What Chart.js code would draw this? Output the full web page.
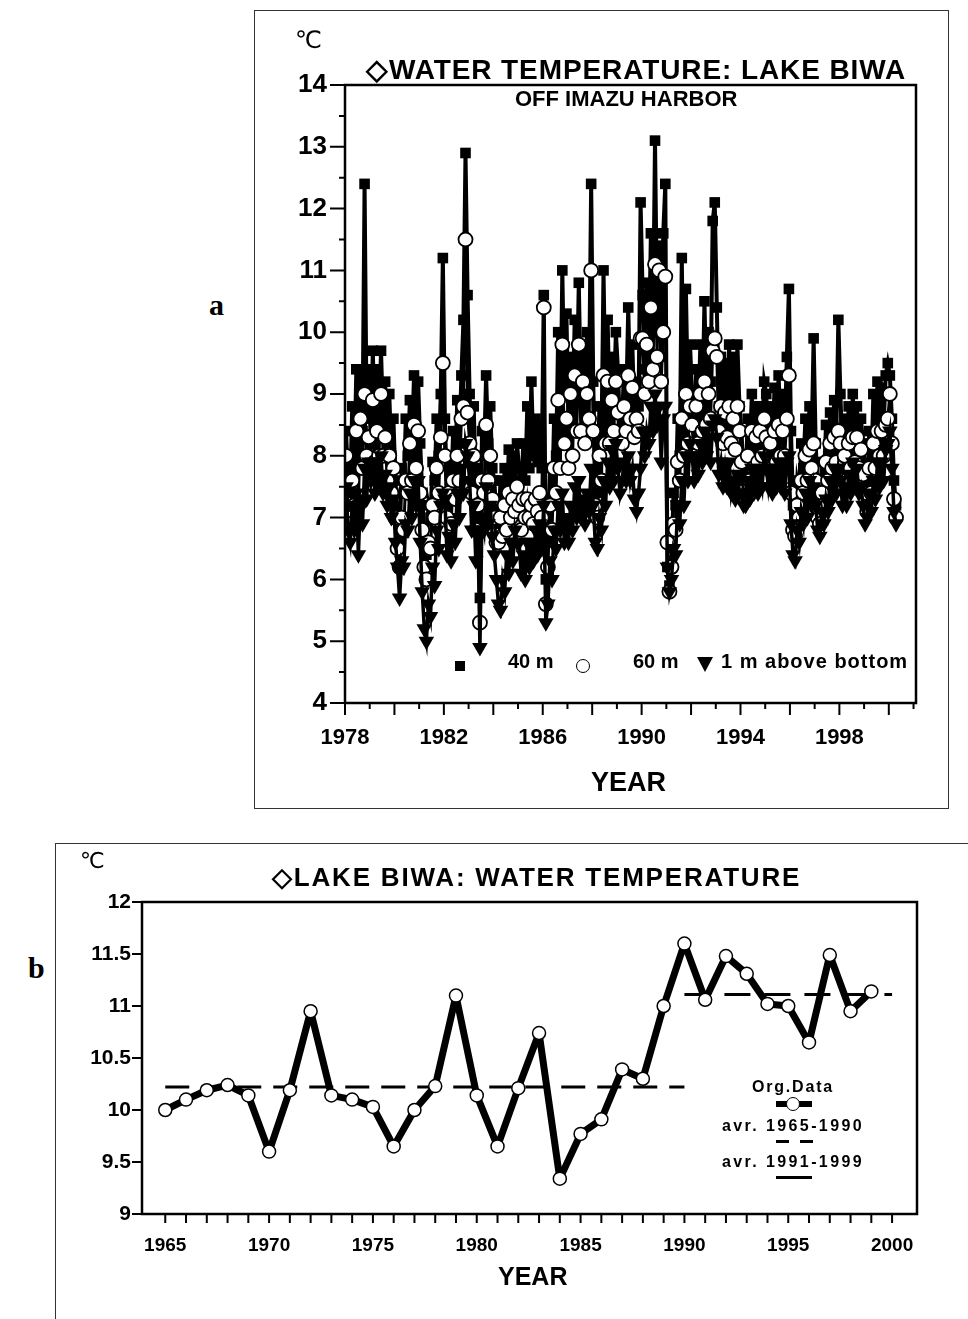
<!DOCTYPE html>
<html>
<head>
<meta charset="utf-8">
<script src="https://cdn.jsdelivr.net/npm/chart.js@4.4.1/dist/chart.umd.min.js"></script>
<style>
  html, body { margin: 0; padding: 0; background: #fff; }
  body { width: 968px; height: 1319px; position: relative; overflow: hidden;
         font-family: 'Liberation Sans', Arial, sans-serif; color: #000; }
  .t { position: absolute; white-space: nowrap; line-height: 1; font-weight: bold; }
  .serif { font-family: 'Liberation Serif', 'Times New Roman', serif; }
  canvas { position: absolute; }
  .box { position: absolute; }
</style>
</head>
<body>

<!-- panel frames -->
<div class="box" style="left:254px;top:10px;width:693px;height:797px;border:1.5px solid #333;"></div>
<div class="box" style="left:55px;top:843px;width:930px;height:490px;border-top:1.5px solid #333;border-left:1.5px solid #333;"></div>

<canvas id="chartA" width="693" height="798" style="left:255px;top:10px"></canvas>
<canvas id="chartB" width="913" height="476" style="left:55px;top:843px"></canvas>

<!-- panel a texts -->
<div class="t serif" style="left:209px;top:290px;font-size:30px;">a</div>
<div class="t" style="left:295px;top:28px;font-size:24px;font-weight:normal;font-family:'DejaVu Sans',sans-serif;">℃</div>
<div class="t" style="left:366px;top:56px;font-size:28px;letter-spacing:0.9px;">◇WATER TEMPERATURE: LAKE BIWA</div>
<div class="t" style="left:515px;top:88px;font-size:22px;">OFF IMAZU HARBOR</div>
<div class="t" style="left:591px;top:769px;font-size:27px;">YEAR</div>

<!-- panel a legend -->
<div class="box" style="left:455px;top:661px;width:10px;height:10px;background:#000;"></div>
<div class="t" style="left:508px;top:651px;font-size:20px;">40 m</div>
<div class="box" style="left:576px;top:659px;width:12px;height:12px;border:1.5px solid #000;border-radius:50%;background:#fff;"></div>
<div class="t" style="left:633px;top:651px;font-size:20px;">60 m</div>
<div class="box" style="left:697px;top:657px;width:0;height:0;border-left:8px solid transparent;border-right:8px solid transparent;border-top:15px solid #000;"></div>
<div class="t" style="left:721px;top:651px;font-size:20px;letter-spacing:1px;">1 m above bottom</div>

<!-- panel b texts -->
<div class="t serif" style="left:28px;top:953px;font-size:30px;">b</div>
<div class="t" style="left:80px;top:850px;font-size:22px;font-weight:normal;font-family:'DejaVu Sans',sans-serif;">℃</div>
<div class="t" style="left:272px;top:864px;font-size:26px;letter-spacing:1.8px;">◇LAKE BIWA: WATER TEMPERATURE</div>
<div class="t" style="left:498px;top:1264px;font-size:25px;">YEAR</div>

<!-- panel b legend -->
<div class="t" style="left:793px;top:1079px;font-size:16px;letter-spacing:1.8px;transform:translateX(-50%);">Org.Data</div>
<div class="box" style="left:776px;top:1101px;width:36px;height:6px;background:#000;"></div>
<div class="box" style="left:786px;top:1097px;width:12px;height:12px;border:1.5px solid #000;border-radius:50%;background:#fff;"></div>
<div class="t" style="left:793px;top:1118px;font-size:16px;letter-spacing:2.4px;transform:translateX(-50%);">avr. 1965-1990</div>
<div class="box" style="left:776px;top:1140px;width:13px;height:3px;background:#000;"></div>
<div class="box" style="left:800px;top:1140px;width:13px;height:3px;background:#000;"></div>
<div class="t" style="left:793px;top:1154px;font-size:16px;letter-spacing:2.4px;transform:translateX(-50%);">avr. 1991-1999</div>
<div class="box" style="left:776px;top:1176px;width:36px;height:3px;background:#000;"></div>

<script>
// --- Panel a: monthly water temperature off Imazu harbor, Jan 1978 - Apr 2000 ---
const START_YEAR = 1978;
const aTickYears = [1978, 1982, 1986, 1990, 1994, 1998];
const aTickTemps = [4, 5, 6, 7, 8, 9, 10, 11, 12, 13, 14];

// 40 m depth (one row per year, Jan..Dec)
const temp40m = [
  8.4, 7.6, 7.4, 8.8, 7.8, 9.4, 8.2, 9.3, 8.4, 12.4, 8.6, 9.4,     // 1978
  8.2, 9.7, 8.4, 9.4, 8.6, 9.7, 8.5, 9.2, 8.2, 9.0, 8.0, 8.6,      // 1979
  7.6, 7.0, 6.6, 7.8, 7.4, 8.6, 8.0, 8.9, 8.2, 9.3, 8.4, 9.2,      // 1980
  8.2, 7.4, 6.6, 6.4, 7.2, 7.0, 7.9, 7.6, 8.6, 8.0, 9.0, 11.2,     // 1981
  8.6, 7.4, 8.0, 7.4, 8.4, 7.8, 8.9, 8.2, 9.3, 10.2, 12.9, 10.6,   // 1982
  9.0, 8.0, 8.8, 7.4, 7.8, 5.7, 8.4, 8.0, 9.3, 8.2, 8.8, 7.8,      // 1983
  7.6, 7.0, 6.9, 7.6, 7.0, 7.8, 7.2, 8.1, 7.4, 8.0, 7.6, 8.2,      // 1984
  7.8, 7.2, 8.2, 7.6, 8.8, 7.8, 9.2, 8.0, 8.6, 7.9, 8.5, 7.8,      // 1985
  10.6, 6.0, 6.6, 7.8, 7.2, 8.6, 8.0, 10.0, 8.4, 11.0, 9.0, 10.3,  // 1986
  8.4, 9.6, 8.6, 10.2, 9.0, 10.8, 9.0, 9.8, 8.8, 10.0, 9.2, 12.4,  // 1987
  9.2, 7.6, 7.4, 8.8, 8.2, 11.0, 8.8, 10.2, 8.7, 9.6, 8.9, 10.0,   // 1988
  9.4, 8.4, 8.6, 9.4, 8.8, 10.4, 9.0, 9.8, 8.6, 9.2, 8.8, 12.1,    // 1989
  10.6, 9.4, 10.8, 9.6, 11.6, 10.0, 13.1, 10.2, 11.4, 9.6, 11.6, 12.4, // 1990
  6.2, 5.9, 6.3, 7.4, 7.2, 8.6, 8.0, 11.2, 8.6, 10.7, 8.8, 9.8,    // 1991
  9.0, 8.2, 9.4, 8.6, 9.8, 8.8, 10.5, 9.0, 10.0, 9.2, 11.8, 12.1,  // 1992
  10.4, 8.8, 9.6, 8.6, 9.5, 8.8, 9.8, 8.6, 9.6, 8.5, 9.8, 8.8,     // 1993
  8.4, 7.6, 7.6, 8.6, 8.0, 9.0, 8.2, 8.8, 8.1, 8.8, 8.3, 9.2,      // 1994
  9.0, 8.2, 8.8, 8.1, 9.1, 8.3, 9.3, 8.4, 9.0, 8.4, 9.6, 10.7,     // 1995
  8.4, 7.2, 7.0, 7.6, 7.4, 8.2, 7.8, 8.6, 8.0, 8.8, 8.2, 9.9,      // 1996
  8.2, 7.4, 7.2, 7.9, 7.6, 8.5, 7.9, 8.7, 8.2, 8.9, 8.3, 10.2,     // 1997
  9.0, 8.0, 8.6, 7.9, 8.8, 8.1, 9.0, 8.2, 8.8, 8.0, 8.6, 8.2,      // 1998
  7.8, 7.4, 8.4, 7.8, 9.0, 8.2, 9.2, 8.4, 9.1, 8.5, 9.3, 9.5,      // 1999
  9.3, 8.6, 7.6, 7.2                                               // 2000
];

// 60 m depth
const temp60m = [
  8.0, 7.0, 6.9, 7.6, 7.2, 8.4, 7.2, 8.6, 7.8, 9.0, 8.0, 8.3,      // 1978
  7.8, 8.9, 7.9, 8.4, 8.0, 9.0, 8.0, 8.3, 7.6, 8.0, 7.4, 7.8,      // 1979
  7.0, 6.5, 6.2, 7.0, 6.8, 7.6, 7.4, 8.2, 7.6, 8.5, 7.8, 8.4,      // 1980
  7.4, 6.8, 6.2, 6.0, 6.6, 6.5, 7.2, 7.0, 7.8, 7.4, 8.3, 9.5,      // 1981
  8.0, 7.0, 7.4, 6.9, 7.6, 7.3, 8.0, 7.6, 8.6, 8.8, 11.5, 8.7,     // 1982
  8.2, 7.4, 8.0, 6.8, 7.2, 5.3, 7.6, 7.4, 8.5, 7.6, 8.0, 7.3,      // 1983
  7.0, 6.6, 6.6, 7.0, 6.7, 7.2, 6.8, 7.4, 7.0, 7.3, 7.1, 7.5,      // 1984
  7.2, 6.8, 7.3, 7.0, 7.3, 7.0, 7.2, 6.9, 7.3, 7.1, 7.4, 7.0,      // 1985
  10.4, 5.6, 6.2, 7.2, 6.8, 7.8, 7.4, 8.9, 7.8, 9.8, 8.2, 8.6,     // 1986
  7.8, 9.0, 8.0, 9.3, 8.4, 9.8, 8.4, 9.2, 8.2, 9.0, 8.6, 11.0,     // 1987
  8.4, 7.2, 7.0, 8.0, 7.6, 9.3, 8.2, 9.2, 8.2, 8.9, 8.4, 9.2,      // 1988
  8.7, 8.0, 8.2, 8.8, 8.4, 9.3, 8.6, 9.1, 8.3, 8.6, 8.4, 9.9,      // 1989
  9.9, 9.0, 9.8, 9.2, 10.4, 9.4, 11.1, 9.6, 11.0, 9.2, 10.0, 10.9, // 1990
  6.6, 5.8, 6.2, 6.9, 6.8, 7.9, 7.6, 8.6, 8.0, 9.0, 8.2, 8.8,      // 1991
  8.5, 8.0, 8.8, 8.2, 9.0, 8.4, 9.2, 8.5, 9.0, 8.6, 9.7, 9.9,      // 1992
  9.6, 8.4, 8.8, 8.2, 8.7, 8.3, 8.8, 8.2, 8.6, 8.1, 8.8, 8.4,      // 1993
  7.9, 7.3, 7.3, 8.0, 7.6, 8.4, 7.8, 8.3, 7.9, 8.4, 8.0, 8.6,      // 1994
  8.3, 7.8, 8.2, 7.8, 8.4, 7.9, 8.5, 8.0, 8.4, 8.0, 8.6, 9.3,      // 1995
  7.4, 6.8, 6.7, 7.2, 7.0, 7.6, 7.4, 8.0, 7.6, 8.1, 7.8, 8.2,      // 1996
  7.6, 7.0, 6.9, 7.4, 7.2, 7.9, 7.6, 8.2, 7.8, 8.3, 7.9, 8.4,      // 1997
  8.2, 7.6, 8.0, 7.6, 8.2, 7.8, 8.3, 7.9, 8.3, 7.8, 8.1, 7.7,      // 1998
  7.4, 7.1, 7.8, 7.4, 8.2, 7.8, 8.4, 8.0, 8.4, 8.0, 8.5, 8.6,      // 1999
  9.0, 8.2, 7.3, 7.0                                               // 2000
];

// 1 m above bottom
const tempBottom = [
  7.5, 6.8, 6.6, 7.2, 6.8, 7.4, 6.4, 7.3, 6.9, 7.8, 7.3, 7.9,      // 1978
  7.6, 7.9, 7.4, 7.9, 7.5, 8.0, 7.4, 7.7, 7.2, 7.5, 7.0, 7.3,      // 1979
  6.6, 6.2, 5.7, 6.3, 6.2, 6.9, 6.8, 7.4, 7.0, 7.6, 7.2, 7.6,      // 1980
  6.6, 5.8, 5.2, 5.0, 5.6, 5.4, 6.2, 5.9, 6.8, 6.5, 7.2, 7.4,      // 1981
  7.3, 6.4, 6.7, 6.3, 6.9, 6.6, 7.4, 7.0, 7.8, 7.4, 8.2, 8.0,      // 1982
  7.6, 6.8, 7.2, 6.3, 6.8, 4.9, 7.0, 6.8, 7.5, 6.9, 7.2, 6.7,      // 1983
  6.4, 6.0, 5.6, 5.5, 6.0, 5.8, 6.4, 6.1, 6.6, 6.3, 6.8, 6.6,      // 1984
  6.6, 6.1, 6.4, 6.0, 6.6, 6.2, 6.6, 6.3, 6.8, 6.4, 6.9, 6.5,      // 1985
  7.2, 5.3, 5.6, 6.3, 6.0, 6.8, 6.5, 7.2, 6.8, 7.4, 6.6, 7.0,      // 1986
  6.6, 7.2, 6.8, 7.5, 7.0, 7.6, 7.0, 7.3, 6.9, 7.4, 7.1, 7.8,      // 1987
  7.2, 6.6, 6.5, 7.0, 6.8, 7.6, 7.2, 7.9, 7.5, 8.1, 7.6, 8.2,      // 1988
  7.8, 7.4, 7.6, 7.9, 7.6, 8.0, 7.6, 7.8, 7.3, 7.1, 7.4, 7.8,      // 1989
  8.4, 8.0, 8.4, 8.2, 8.8, 8.4, 9.0, 8.5, 8.8, 7.9, 8.6, 8.8,      // 1990
  6.2, 5.8, 6.0, 6.5, 6.4, 7.2, 6.9, 7.6, 7.2, 8.0, 7.6, 8.2,      // 1991
  8.0, 7.6, 8.0, 7.7, 8.2, 7.9, 8.4, 8.0, 8.3, 7.9, 8.5, 8.6,      // 1992
  8.3, 7.7, 7.9, 7.5, 7.8, 7.5, 7.9, 7.4, 7.6, 7.3, 7.7, 7.4,      // 1993
  7.4, 7.2, 7.2, 7.6, 7.3, 7.8, 7.4, 7.8, 7.4, 7.7, 7.5, 8.0,      // 1994
  7.8, 7.5, 7.8, 7.4, 7.8, 7.5, 7.9, 7.5, 7.8, 7.4, 7.9, 8.0,      // 1995
  6.9, 6.4, 6.3, 6.8, 6.6, 7.1, 6.9, 7.4, 7.0, 7.6, 7.2, 7.5,      // 1996
  7.2, 6.8, 6.7, 7.1, 6.9, 7.3, 7.1, 7.6, 7.3, 7.8, 7.4, 7.8,      // 1997
  7.6, 7.2, 7.5, 7.2, 7.7, 7.4, 7.9, 7.5, 7.8, 7.4, 7.5, 7.2,      // 1998
  6.9, 7.0, 7.4, 7.1, 7.6, 7.3, 7.9, 7.5, 7.9, 7.6, 8.1, 8.2,      // 1999
  8.4, 7.8, 7.1, 6.9                                               // 2000
];

// --- Panel b: annual mean water temperature ---
const bTickYears = [1965, 1970, 1975, 1980, 1985, 1990, 1995, 2000];
const bTickTemps = [9, 9.5, 10, 10.5, 11, 11.5, 12];
const annualYears = [1965, 1966, 1967, 1968, 1969, 1970, 1971, 1972, 1973, 1974,
                     1975, 1976, 1977, 1978, 1979, 1980, 1981, 1982, 1983, 1984,
                     1985, 1986, 1987, 1988, 1989, 1990, 1991, 1992, 1993, 1994,
                     1995, 1996, 1997, 1998, 1999];
const annualTemps = [10.00, 10.10, 10.19, 10.24, 10.14, 9.60, 10.19, 10.95, 10.14, 10.10,
                     10.03, 9.65, 10.00, 10.23, 11.10, 10.14, 9.65, 10.21, 10.74, 9.34,
                     9.77, 9.91, 10.39, 10.30, 11.00, 11.60, 11.06, 11.48, 11.31, 11.02,
                     11.00, 10.65, 11.49, 10.95, 11.14];
const avg6590 = 10.22;
const avg9199 = 11.11;
const avg6590Span = [1965, 1990];
const avg9199Span = [1990, 2000];

// --- helpers ---
const monthly = arr => arr.map((v, i) => ({ x: START_YEAR + (i + 0.5) / 12, y: v }));
const pairs = (xs, ys) => xs.map((x, i) => ({ x, y: ys[i] }));
const fixedTicks = list => scale => { scale.ticks = list.map(v => ({ value: v })); };

Chart.defaults.font.family = "'Liberation Sans', Arial, sans-serif";
Chart.defaults.color = '#000';

// frame + tick marks (major / minor) drawn from the scales
const axisMarks = {
  id: 'axisMarks',
  afterDatasetsDraw(chart, args, o) {
    const { ctx, chartArea: a, scales: { x, y } } = chart;
    ctx.save();
    ctx.strokeStyle = '#000';
    ctx.lineWidth = o.frame;
    ctx.strokeRect(a.left, a.top, a.right - a.left, a.bottom - a.top);
    ctx.lineWidth = o.tickWidth;
    ctx.beginPath();
    for (let i = 0; ; i++) {
      const v = o.x.from + i * o.x.step;
      if (v > o.x.to + 1e-6) break;
      const px = x.getPixelForValue(v);
      const len = i % o.x.every === 0 ? o.x.major : o.x.minor;
      ctx.moveTo(px, a.bottom);
      ctx.lineTo(px, a.bottom + len);
    }
    for (let i = 0; ; i++) {
      const v = o.y.from + i * o.y.step;
      if (v > o.y.to + 1e-6) break;
      const py = y.getPixelForValue(v);
      const len = i % o.y.every === 0 ? o.y.major : o.y.minor;
      ctx.moveTo(a.left, py);
      ctx.lineTo(a.left - len, py);
    }
    ctx.stroke();
    ctx.restore();
  }
};

const noGrid = { display: false, drawTicks: false, tickLength: 0 };

// --- chart a ---
new Chart(document.getElementById('chartA'), {
  type: 'line',
  data: {
    datasets: [
      {
        label: '40 m',
        data: monthly(temp40m),
        borderColor: '#000', borderWidth: 4,
        pointStyle: 'rect', pointRadius: 7.5,
        pointBackgroundColor: '#000', pointBorderWidth: 0,
        order: 3
      },
      {
        label: '60 m',
        data: monthly(temp60m),
        borderColor: '#000', borderWidth: 3,
        pointStyle: 'circle', pointRadius: 7,
        pointBackgroundColor: '#fff', pointBorderColor: '#000', pointBorderWidth: 1.8,
        order: 2
      },
      {
        label: '1 m above bottom',
        data: monthly(tempBottom),
        borderColor: '#000', borderWidth: 3.5,
        pointStyle: 'triangle', pointRotation: 180, pointRadius: 9,
        pointBackgroundColor: '#000', pointBorderWidth: 0,
        order: 1
      }
    ]
  },
  options: {
    responsive: false,
    animation: false,
    layout: { padding: { left: 0, top: 75, right: 32, bottom: 0 } },
    scales: {
      x: {
        type: 'linear', min: 1978, max: 2001.1,
        grid: noGrid, border: { display: false },
        afterBuildTicks: fixedTicks(aTickYears),
        afterFit: s => { s.height = 105; },
        ticks: {
          autoSkip: false, maxRotation: 0, padding: 22,
          font: { size: 22, weight: 'bold' },
          callback: v => String(v)
        }
      },
      y: {
        min: 4, max: 14,
        grid: noGrid, border: { display: false },
        afterBuildTicks: fixedTicks(aTickTemps),
        afterFit: s => { s.width = 90; },
        ticks: {
          padding: 18,
          font: { size: 26, weight: 'bold' },
          callback: v => String(v)
        }
      }
    },
    plugins: {
      legend: { display: false },
      tooltip: { enabled: false },
      axisMarks: {
        frame: 2.5, tickWidth: 2,
        x: { from: 1978, to: 2001, step: 1, every: 2, major: 12, minor: 6 },
        y: { from: 4, to: 14, step: 0.5, every: 2, major: 15, minor: 6 }
      }
    }
  },
  plugins: [axisMarks]
});

// --- chart b ---
new Chart(document.getElementById('chartB'), {
  type: 'line',
  data: {
    datasets: [
      {
        label: 'Org.Data',
        data: pairs(annualYears, annualTemps),
        borderColor: '#000', borderWidth: 7, borderJoinStyle: 'round',
        pointStyle: 'circle', pointRadius: 6.5,
        pointBackgroundColor: '#fff', pointBorderColor: '#000', pointBorderWidth: 1.5,
        order: 0
      },
      {
        label: 'avr. 1965-1990',
        data: pairs(avg6590Span, [avg6590, avg6590]),
        borderColor: '#000', borderWidth: 3, borderDash: [24, 12],
        pointRadius: 0, order: 1
      },
      {
        label: 'avr. 1991-1999',
        data: pairs(avg9199Span, [avg9199, avg9199]),
        borderColor: '#000', borderWidth: 3, borderDash: [26, 14],
        pointRadius: 0, order: 2
      }
    ]
  },
  options: {
    responsive: false,
    animation: false,
    layout: { padding: { left: 0, top: 59, right: 51, bottom: 0 } },
    scales: {
      x: {
        type: 'linear', min: 1963.88, max: 2001.2,
        grid: noGrid, border: { display: false },
        afterBuildTicks: fixedTicks(bTickYears),
        afterFit: s => { s.height = 105; },
        ticks: {
          autoSkip: false, maxRotation: 0, padding: 20,
          font: { size: 19, weight: 'bold' },
          callback: v => String(v)
        }
      },
      y: {
        min: 9, max: 12,
        grid: noGrid, border: { display: false },
        afterBuildTicks: fixedTicks(bTickTemps),
        afterFit: s => { s.width = 87; },
        ticks: {
          padding: 11,
          font: { size: 21, weight: 'bold' },
          callback: v => String(v)
        }
      }
    },
    plugins: {
      legend: { display: false },
      tooltip: { enabled: false },
      axisMarks: {
        frame: 2.5, tickWidth: 2,
        x: { from: 1965, to: 2000, step: 1, every: 1, major: 9, minor: 9 },
        y: { from: 9, to: 12, step: 0.5, every: 1, major: 10, minor: 10 }
      }
    }
  },
  plugins: [axisMarks]
});
</script>
</body>
</html>
